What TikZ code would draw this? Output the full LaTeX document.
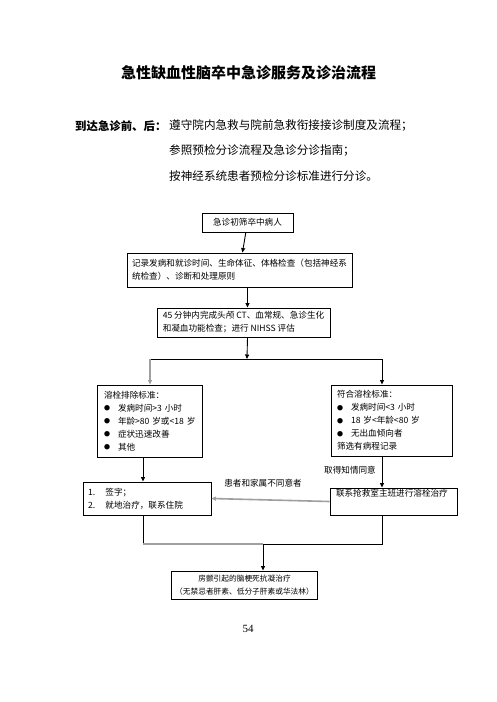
\documentclass[tikz,border=0pt]{standalone}
\usepackage{fontspec}
\setmainfont{Noto Sans CJK SC}
\newfontfamily\numfont{Liberation Serif}
\usetikzlibrary{arrows.meta}
\newcommand\bul{\makebox[14pt][l]{\raisebox{0.5pt}{\fontsize{6}{6}\selectfont ●}}}
\begin{document}
\begin{tikzpicture}[x=1pt,y=-1pt,
  box/.style={draw,line width=0.9pt,inner ysep=0pt,font=\fontsize{8.6}{13}\selectfont},
  arr/.style={-{Triangle[length=4.5pt,width=4pt]},line width=0.9pt},
  garr/.style={-{Triangle[length=4.5pt,width=4pt]},draw=gray!75,line width=1.6pt},
  gline/.style={draw=gray!75,line width=1.6pt},
  bline/.style={line width=0.9pt},
  lbl/.style={inner sep=0pt,font=\fontsize{8.6}{10}\selectfont},
  intro/.style={inner sep=0pt,anchor=west,font=\fontsize{11.6}{14}\selectfont}
]
\useasboundingbox[fill=white] (0,0) rectangle (496,702);

% title and introduction
\node[inner sep=0pt,font=\bfseries\fontsize{15}{18}\selectfont] (title) at (248.5,73) {急性缺血性脑卒中急诊服务及诊治流程};
\node[intro,font=\bfseries\fontsize{11.4}{14}\selectfont] (intro0) at (75,126) {到达急诊前、后：};
\node[intro] (intro1) at (169,126) {遵守院内急救与院前急救衔接接诊制度及流程；};
\node[intro] (intro2) at (169,151) {参照预检分诊流程及急诊分诊指南；};
\node[intro] (intro3) at (169,176) {按神经系统患者预检分诊标准进行分诊。};

% boxes
\node[box,minimum width=91pt,minimum height=19pt] (b1) at (247.5,222.5) {急诊初筛卒中病人};
\node[box,minimum width=225pt,minimum height=34pt,align=left] (b2) at (239.5,270) {记录发病和就诊时间、生命体征、体格检查（包括神经系\\统检查）、诊断和处理原则};
\node[box,minimum width=173pt,minimum height=29pt,align=left] (b3) at (243.5,322.5) {45 分钟内完成头颅 CT、血常规、急诊生化\\和凝血功能检查；进行 NIHSS 评估};
\node[box,inner xsep=7pt,text width=91pt,minimum height=72pt,align=left] (lb) at (149.5,421) {\mbox{溶栓排除标准：}\\\mbox{\bul 发病时间>3 小时}\\\mbox{\bul 年龄>80 岁或<18 岁}\\\mbox{\bul 症状迅速改善}\\\mbox{\bul 其他}};
\node[box,inner xsep=6pt,text width=109pt,minimum height=71pt,align=left] (rb) at (391.5,420.5) {\mbox{符合溶栓标准：}\\\mbox{\bul 发病时间<3 小时}\\\mbox{\bul 18 岁<年龄<80 岁}\\\mbox{\bul 无出血倾向者}\\\mbox{筛选有病程记录}};
\node[box,inner xsep=6pt,text width=115pt,minimum height=27pt,align=left] (br) at (393.5,501.5) {联系抢救室主班进行溶栓治疗\\\strut};
\node[box,inner xsep=5pt,text width=118pt,minimum height=33pt,align=left] (bl) at (147,498.5) {1.\hspace{6pt} 签字；\\2.\hspace{6pt} 就地治疗，联系住院};
\node[box,minimum width=145pt,minimum height=28pt,align=center,font=\fontsize{7.7}{13}\selectfont] (fb) at (244.5,585) {房颤引起的脑梗死抗凝治疗\\（无禁忌者肝素、低分子肝素或华法林）};

% page number
\node[inner sep=0pt,font=\numfont\fontsize{11}{13}\selectfont] (page) at (248,629) {54};

% junction coordinates
\coordinate (split) at (247,359);
\coordinate (sl) at (150,359);
\coordinate (sr) at (382,359);
\coordinate (rbs) at (382,456);
\coordinate (lbs) at (143,457);
\coordinate (bls) at (143,515);
\coordinate (brs) at (382,515);
\coordinate (jl) at (143,544);
\coordinate (jm) at (263,544);
\coordinate (jr) at (382,544);

% connectors
\draw[arr] (b1) -- (b2);
\draw[arr] (b2.south -| b1) -- (b3.north -| b1);
\draw[arr] (b3.south -| b1) -- (split);
\draw[bline] (sl) -- (sr);
\draw[garr] (sl) -- (sl |- lb.north);
\draw[arr] (sr) -- (sr |- rb.north);
\draw[arr] (rbs) -- (rbs |- br.north);
\node[lbl,anchor=east] (consent) at (376,470) {取得知情同意};
\draw[arr] (lbs) -- (lbs |- bl.north);
\draw[garr] (br.west) -- (bl.east);
\node[lbl] (refuse) at (263,483) {患者和家属不同意者};
\draw[bline] (bls) -- (jl);
\draw[gline] (jl) -- (jm);
\draw[bline] (jm) -- (jr) -- (brs);
\draw[arr] (jm) -- (jm |- fb.north);
\end{tikzpicture}
\end{document}
